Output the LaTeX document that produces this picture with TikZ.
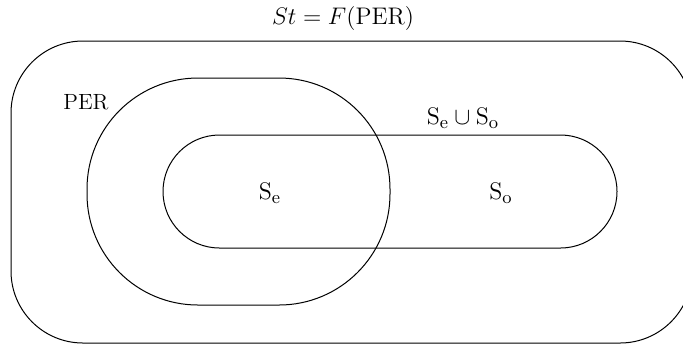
\documentclass[tikz,border=0pt]{standalone}
\usetikzlibrary{positioning}

\begin{document}
\begin{tikzpicture}[line width=0.5pt, x=0.5pt, y=-0.5pt,
    region/.style={draw, rectangle, inner sep=0pt, outer sep=0pt},
    lbl/.style={inner sep=0pt, font=\fontsize{12.5}{14}\selectfont}]
  \useasboundingbox (0,0) rectangle (683,345);
  % the universe (runs off the right edge), the PER blob and the stadium for S_e u S_o
  \node[region, minimum width=340.5pt, minimum height=151pt, rounded corners=36pt] (st) at (351.5,192) {};
  \node[region, minimum width=151.5pt, minimum height=113.5pt, rounded corners=55.5pt] (per) at (238.5,191.5) {};
  \node[region, minimum width=227pt, minimum height=56.5pt, rounded corners=28.25pt] (union) at (390,191.5) {};
  % labels
  \node[inner sep=0pt, font=\fontsize{13}{15}\selectfont] (title) at (343,18) {$St = F(\mathrm{PER})$};
  \node[inner sep=0pt, font=\fontsize{11}{13}\selectfont] (perlbl) at (86,102) {PER};
  \node[lbl] (se) at (270,193) {$\mathrm{S_e}$};
  \node[lbl] (so) at (501,193) {$\mathrm{S_o}$};
  \node[lbl] (unionlbl) at (463,118) {$\mathrm{S_e}\cup\mathrm{S_o}$};
\end{tikzpicture}
\end{document}
